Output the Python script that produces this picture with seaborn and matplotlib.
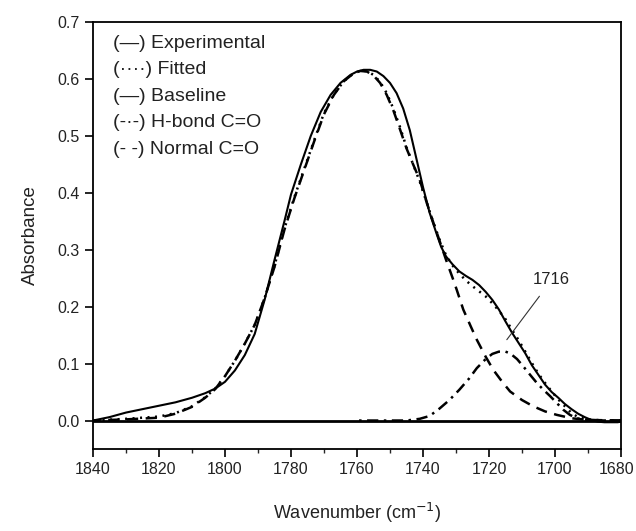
import matplotlib
matplotlib.use("Agg")
import matplotlib.pyplot as plt
import matplotlib.transforms as mtransforms
import seaborn as sns
import numpy as np
from matplotlib.ticker import MultipleLocator, FormatStrFormatter

# ---------------- data ----------------
exp_w = [1840, 1835, 1830, 1825, 1820, 1815, 1810, 1806, 1803, 1800, 1797, 1794, 1791,
         1788, 1785, 1782, 1780, 1777, 1774, 1771, 1768, 1765, 1762, 1760, 1758, 1756,
         1754, 1752, 1750, 1748, 1746, 1744, 1742, 1740, 1738, 1736, 1734.5, 1733, 1731,
         1729, 1727, 1725, 1723, 1721, 1719, 1717, 1715, 1713, 1711, 1709, 1707, 1705,
         1703, 1701, 1699, 1697, 1695, 1693, 1691, 1689, 1687, 1685, 1683, 1681, 1680]
exp_a = [0.000, 0.006, 0.014, 0.020, 0.026, 0.032, 0.040, 0.048, 0.056, 0.068, 0.088,
         0.115, 0.152, 0.212, 0.282, 0.350, 0.397, 0.450, 0.500, 0.542, 0.572, 0.593,
         0.607, 0.613, 0.616, 0.616, 0.613, 0.605, 0.593, 0.575, 0.548, 0.510, 0.460,
         0.410, 0.365, 0.330, 0.305, 0.288, 0.274, 0.262, 0.254, 0.247, 0.238, 0.226,
         0.212, 0.195, 0.174, 0.154, 0.136, 0.118, 0.097, 0.080, 0.063, 0.050, 0.040,
         0.029, 0.020, 0.012, 0.006, 0.001, -0.002, -0.003, -0.003, -0.003, -0.002]

fit_w = [1840, 1830, 1820, 1815, 1810, 1806, 1803, 1800, 1797, 1794, 1791, 1788, 1785,
         1782, 1779, 1776, 1773, 1770, 1767, 1764, 1761, 1759, 1757, 1755, 1753, 1751,
         1749, 1747, 1745, 1743, 1741, 1739, 1737, 1735, 1733, 1731, 1729, 1727, 1725,
         1723, 1721, 1719, 1717, 1715, 1713, 1711, 1709, 1707, 1705, 1703, 1701, 1699,
         1697, 1695, 1693, 1690, 1685, 1680]
fit_a = [0.000, 0.003, 0.007, 0.013, 0.025, 0.041, 0.056, 0.078, 0.105, 0.135, 0.168,
         0.215, 0.272, 0.337, 0.392, 0.442, 0.492, 0.540, 0.573, 0.596, 0.610, 0.614,
         0.614, 0.607, 0.595, 0.575, 0.548, 0.516, 0.480, 0.450, 0.420, 0.385, 0.350,
         0.318, 0.290, 0.272, 0.258, 0.246, 0.236, 0.227, 0.218, 0.206, 0.193, 0.178,
         0.159, 0.141, 0.121, 0.101, 0.082, 0.066, 0.051, 0.037, 0.025, 0.013, 0.006,
         0.002, 0.000, 0.000]

base_w = [1840, 1680]
base_a = [0.0, 0.0]

hb_w = [1760, 1745, 1741, 1738, 1735, 1732, 1729, 1726, 1723.7, 1721, 1719, 1717, 1715,
        1713.6, 1711.5, 1709.6, 1707.5, 1705.5, 1703.5, 1701.5, 1699.5, 1697.5, 1695.5,
        1693.5, 1690, 1685, 1680]
hb_a = [0.000, 0.000, 0.003, 0.008, 0.021, 0.036, 0.054, 0.074, 0.092, 0.108, 0.117,
        0.121, 0.121, 0.118, 0.108, 0.095, 0.080, 0.066, 0.054, 0.043, 0.031, 0.019,
        0.010, 0.004, 0.001, 0.000, 0.000]

nor_w = [1840, 1830, 1820, 1815, 1810, 1806, 1803, 1800, 1797, 1794, 1791, 1788, 1785,
         1782, 1779, 1776, 1773, 1770, 1767, 1764, 1761, 1759, 1757, 1755, 1753, 1751,
         1749, 1747, 1745, 1743, 1741, 1739, 1737, 1735, 1733, 1731, 1729.8, 1727.8,
         1725.5, 1723.7, 1721, 1718.7, 1716, 1713.6, 1710, 1706.6, 1703, 1699.5, 1695,
         1690, 1680]
nor_a = [0.000, 0.002, 0.005, 0.012, 0.024, 0.040, 0.055, 0.078, 0.105, 0.135, 0.168,
         0.215, 0.270, 0.335, 0.390, 0.440, 0.490, 0.538, 0.572, 0.596, 0.610, 0.614,
         0.613, 0.606, 0.593, 0.572, 0.545, 0.512, 0.478, 0.450, 0.423, 0.385, 0.350,
         0.316, 0.282, 0.250, 0.230, 0.195, 0.165, 0.142, 0.112, 0.089, 0.068, 0.051,
         0.036, 0.025, 0.016, 0.010, 0.004, 0.001, 0.000]

legend_lines = ["(\u2014) Experimental", "(\u00b7\u00b7\u00b7\u00b7) Fitted", "(\u2014) Baseline",
                "(-\u00b7-) H-bond C=O", "(- -) Normal C=O"]
peak_label = "1716"
peak_xy = (1714.6, 0.142)
peak_text_xy = (1701, 0.247)

x_ticks = [1840, 1820, 1800, 1780, 1760, 1740, 1720, 1700, 1680]
y_ticks = [0.0, 0.1, 0.2, 0.3, 0.4, 0.5, 0.6, 0.7]

# ---------------- style ----------------
sns.set_style("ticks")
plt.rcParams["font.family"] = ["Liberation Sans", "DejaVu Sans"]

fig = plt.figure(figsize=(6.36, 5.31), dpi=100)
ax = fig.add_axes([93/636, 1-449/531, (621-93)/636, (449-22)/531])

sns.lineplot(x=exp_w, y=exp_a, ax=ax, color="black", lw=1.5, ls="-")
sns.lineplot(x=fit_w, y=fit_a, ax=ax, color="black", lw=1.8, ls=(0, (0.8, 2.2)))
sns.lineplot(x=base_w, y=base_a, ax=ax, color="black", lw=2.0, ls="-")
sns.lineplot(x=hb_w, y=hb_a, ax=ax, color="black", lw=1.8, ls=(0, (4.5, 2.2, 1.0, 2.2)))
sns.lineplot(x=nor_w, y=nor_a, ax=ax, color="black", lw=1.8, ls=(0, (4.5, 3.0)))

ax.annotate(peak_label, xy=peak_xy, xytext=peak_text_xy, ha="center", va="center",
            fontsize=12, color="#222222",
            arrowprops=dict(arrowstyle="-", color="#333333", lw=0.8,
                            shrinkA=5, shrinkB=0))

for i, t in enumerate(legend_lines):
    ax.text(0.038, 0.95 - i * 0.062, t, transform=ax.transAxes, fontsize=14,
            ha="left", va="center", color="#222222")

ax.set_xlim(1840, 1680)
ax.set_ylim(-0.05, 0.7)
ax.set_xticks(x_ticks)
ax.set_yticks(y_ticks)
ax.xaxis.set_minor_locator(MultipleLocator(10))
ax.yaxis.set_major_formatter(FormatStrFormatter("%.1f"))
ax.tick_params(axis="both", which="major", direction="out", length=6, width=1.2,
               labelsize=11.5, colors="black", labelcolor="#222222")
ax.tick_params(axis="x", which="minor", direction="out", length=3, width=1.0)
for s in ax.spines.values():
    s.set_visible(True)
    s.set_linewidth(1.3)
    s.set_color("black")

ax.set_xlabel("Wavenumber (cm$^{-1}$)", fontsize=13, labelpad=17, color="#222222")
ax.set_ylabel("Absorbance", fontsize=13.5, labelpad=13, color="#222222")

# nudge the last x tick label so it stays inside the canvas
fig.canvas.draw()
last = ax.get_xticklabels()[-1]
last.set_transform(last.get_transform() +
                   mtransforms.ScaledTranslation(-4/100, 0, fig.dpi_scale_trans))

fig.savefig("out.png", dpi=100)
